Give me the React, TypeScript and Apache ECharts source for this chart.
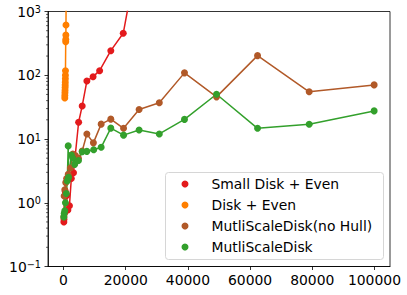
import React, { useEffect, useRef } from 'react';
import * as echarts from 'echarts';

const seriesNames = ['Small Disk + Even', 'Disk + Even', 'MutliScaleDisk(no Hull)', 'MutliScaleDisk'];
const seriesColors = ['#e31a1c', '#ff7f00', '#b15928', '#33a02c'];

const xTicks = [0, 20000, 40000, 60000, 80000, 100000];
const yMinorTicks = [
  0.2, 0.3, 0.4, 0.5, 0.6, 0.7, 0.8, 0.9,
  2, 3, 4, 5, 6, 7, 8, 9,
  20, 30, 40, 50, 60, 70, 80, 90,
  200, 300, 400, 500, 600, 700, 800, 900,
];

const redX = [100, 150, 300, 550, 1000, 1400, 1900, 2500, 3200, 4850, 6000, 7500, 9500, 11600, 15200, 19200, 24300];
const redY = [0.5, 0.55, 0.68, 1.5, 1.3, 0.77, 0.9, 2.4, 2.96, 18.3, 33, 81, 95, 118, 243, 455, 10000];

const orangeX = [400, 420, 450, 480, 500, 520, 550, 580, 600, 620, 700, 720, 740, 780, 900];
const orangeY = [44, 48, 53, 58, 64, 70, 78, 88, 100, 118, 336, 365, 427, 615, 5000];

const brownX = [100, 200, 400, 700, 1000, 1500, 2200, 3000, 3800, 4800, 6000, 7500, 9600, 12100, 15200, 19300, 24300, 30800, 38900, 49200, 62400, 79000, 99900];
const brownY = [0.6, 1.28, 1.6, 2.07, 2.4, 2.8, 3.5, 5.8, 5.5, 5.0, 6.5, 12, 8.7, 17.1, 20.5, 14.7, 29, 37, 109, 45.8, 203, 55, 70.6];

const greenX = [100, 200, 400, 600, 900, 1200, 1500, 1600, 2500, 3000, 3600, 4800, 6000, 7500, 9700, 12100, 15200, 19300, 24300, 30800, 38900, 49200, 62400, 79000, 99900];
const greenY = [0.6, 0.68, 0.75, 1.0, 1.4, 2.2, 7.8, 2.5, 5.6, 5.0, 4.0, 4.6, 6.3, 6.4, 6.8, 7.4, 14.8, 11.5, 13.8, 12.0, 20.3, 50.3, 14.7, 17.0, 27.6];

const seriesX = [redX, orangeX, brownX, greenX];
const seriesY = [redY, orangeY, brownY, greenY];

const FONT = 'DejaVu Sans';

export default function App() {
  const ref = useRef<HTMLDivElement>(null);
  useEffect(() => {
    const chart = echarts.init(ref.current!, null, { renderer: 'svg' });
    const lineSeries = seriesNames.map((name, i) => ({
      type: 'line',
      name,
      data: seriesX[i].map((x, j) => [x, seriesY[i][j]]),
      symbol: 'circle',
      symbolSize: 7,
      showAllSymbol: true,
      clip: true,
      lineStyle: { width: 1.5, color: seriesColors[i] },
      itemStyle: { color: seriesColors[i] },
      z: 2,
    }));
    const minorSeries = {
      type: 'custom',
      silent: true,
      clip: false,
      data: yMinorTicks.map((v) => [0, v]),
      renderItem: (params: any, api: any) => {
        const cs = params.coordSys;
        const p = api.coord([0, api.value(1)]);
        return {
          type: 'line',
          shape: { x1: cs.x - 2, y1: p[1], x2: cs.x, y2: p[1] },
          style: { stroke: '#000', lineWidth: 0.6 },
        };
      },
      z: 5,
    };
    chart.setOption({
      animation: false,
      grid: {
        left: 48,
        right: 17,
        top: 11.5,
        bottom: 28.5,
        show: true,
        borderColor: '#000',
        borderWidth: 0.8,
        backgroundColor: 'transparent',
      },
      xAxis: {
        type: 'value',
        min: -5000,
        max: 105000,
        splitLine: { show: false },
        axisLine: { show: true, onZero: false, lineStyle: { color: '#000', width: 0.8 } },
        axisTick: { show: true, customValues: xTicks, length: 3.5, lineStyle: { color: '#000', width: 0.8 } },
        axisLabel: {
          customValues: xTicks,
          margin: 6,
          color: '#000',
          fontSize: 13.9,
          fontFamily: FONT,
          formatter: (v: number) => String(v),
        },
      },
      yAxis: {
        type: 'log',
        logBase: 10,
        min: 0.1,
        max: 1000,
        splitNumber: 4,
        splitLine: { show: false },
        axisLine: { show: true, onZero: false, lineStyle: { color: '#000', width: 0.8 } },
        axisTick: { show: true, length: 3.5, lineStyle: { color: '#000', width: 0.8 } },
        minorTick: { show: false },
        axisLabel: {
          margin: 7,
          color: '#000',
          formatter: (v: number) => {
            const e = Math.round(Math.log10(v));
            const es = e < 0 ? '\u2212' + String(-e) : String(e);
            return '{b|10}{s|' + es + '}';
          },
          rich: {
            b: { fontSize: 13.9, fontFamily: FONT, color: '#000', lineHeight: 14, verticalAlign: 'bottom' },
            s: { fontSize: 9.7, fontFamily: FONT, color: '#000', lineHeight: 10, padding: [0, 0, 9, 0], verticalAlign: 'top' },
          },
        },
      },
      legend: {
        data: seriesNames,
        orient: 'vertical',
        left: 181.5,
        top: 176,
        icon: 'circle',
        itemWidth: 7,
        itemHeight: 7,
        itemGap: 5,
        padding: 0,
        textStyle: { fontSize: 13.9, fontFamily: FONT, color: '#000', lineHeight: 16, padding: [0, 0, 0, 18] },
        z: 6,
      },
      graphic: [
        {
          type: 'rect',
          left: 165,
          top: 172,
          shape: { width: 218, height: 87, r: 3 },
          style: { fill: 'rgba(255,255,255,0.8)', stroke: '#d6d6d6', lineWidth: 1 },
          z: 3,
        },
      ],
      series: [...lineSeries, minorSeries],
    });
    return () => chart.dispose();
  }, []);
  return <div ref={ref} style={{ position: 'absolute', left: 0, top: 0, width: 407, height: 295 }} />;
}
